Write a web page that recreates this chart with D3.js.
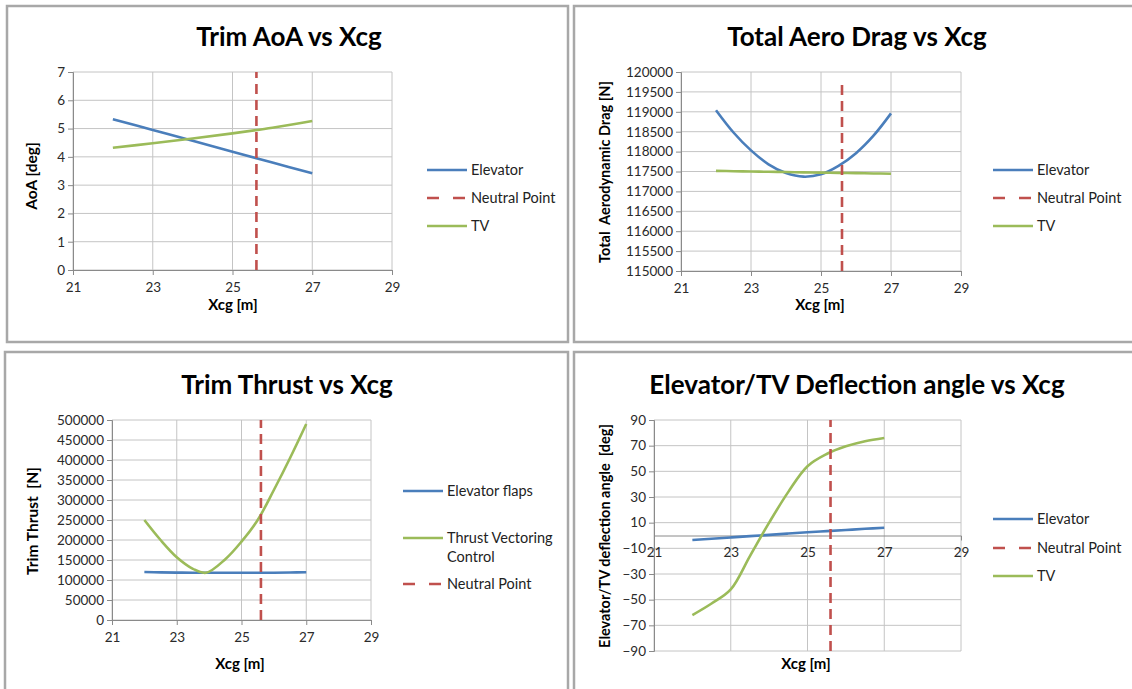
<!DOCTYPE html>
<html>
<head>
<meta charset="utf-8">
<script src="https://cdn.jsdelivr.net/npm/d3@7"></script>
<style>
  body { margin: 0; background: #fff; }
  svg { font-family: Lato, "Open Sans", sans-serif; }
  .tick text { fill: #2a2a2a; }
</style>
</head>
<body>
<svg id="chart" width="1132" height="689"></svg>
<script>
// ---- data ----
var neutralX = 25.6;

// Trim AoA vs Xcg
var aoaX = [22, 23, 24, 25, 26, 27];
var aoaElevator = [5.33, 4.95, 4.57, 4.18, 3.80, 3.42];
var aoaTV = [4.32, 4.48, 4.65, 4.83, 5.03, 5.27];
var aoaTicks = [0, 1, 2, 3, 4, 5, 6, 7];

// Total Aero Drag vs Xcg
var dragX = [22, 22.5, 23, 23.5, 24, 24.5, 25, 25.5, 26, 26.5, 27];
var dragElevator = [119040, 118480, 118030, 117680, 117460, 117370, 117430, 117640, 117960, 118400, 118960];
var dragTV = [117515, 117508, 117500, 117493, 117486, 117479, 117472, 117465, 117458, 117451, 117445];
var dragTicks = [115000, 115500, 116000, 116500, 117000, 117500, 118000, 118500, 119000, 119500, 120000];

// Trim Thrust vs Xcg
var thrustX = [22, 22.5, 23, 23.5, 23.9, 24.5, 25, 25.5, 26, 26.5, 27];
var thrustElevator = [120000, 119000, 118500, 118200, 118000, 118000, 118000, 118000, 118300, 118800, 119500];
var thrustTVC = [250000, 200000, 157000, 128000, 118000, 152000, 196000, 250000, 325000, 405000, 490000];
var thrustTicks = [0, 50000, 100000, 150000, 200000, 250000, 300000, 350000, 400000, 450000, 500000];

// Elevator/TV Deflection angle vs Xcg
var deflX = [22, 22.5, 23, 23.5, 24, 24.5, 25, 25.5, 26, 26.5, 27];
var deflElevator = [-3.5, -2.5, -1.5, -0.5, 0.5, 1.5, 2.5, 3.4, 4.3, 5.2, 6.0];
var deflTV = [-62, -53, -42, -16, 10, 34, 54, 63.5, 69.5, 73.5, 76];
var deflTicks = [-90, -70, -50, -30, -10, 10, 30, 50, 70, 90];

var xTicks = [21, 23, 25, 27, 29];

var blue = "#4a7ebb", red = "#c0504d", green = "#9bbb59";

var svg = d3.select("#chart");

// panel frames
[[7, 6, 561, 336], [574, 6, 570, 336], [5, 352, 563, 350], [574, 352, 570, 350]].forEach(function (r) {
    svg.append("rect")
        .attr("x", r[0]).attr("y", r[1])
        .attr("width", r[2]).attr("height", r[3])
        .attr("fill", "none")
        .attr("stroke", "#a8a8a8")
        .attr("stroke-width", 2.5);
});

function zip(xs, ys) {
    return xs.map(function (x, i) { return [x, ys[i]]; });
}

function drawPanel(p) {
    var g = svg.append("g");
    var x = d3.scaleLinear().domain([21, 29]).range([p.x0, p.x1]);
    var y = d3.scaleLinear().domain(p.yDomain).range([p.y1, p.y0]);

    // grid
    g.selectAll(".hg").data(p.yTicks).enter().append("line")
        .attr("x1", p.x0).attr("x2", p.x1)
        .attr("y1", function (d) { return y(d); })
        .attr("y2", function (d) { return y(d); })
        .attr("stroke", "#c4c4c4");
    g.selectAll(".vg").data(xTicks).enter().append("line")
        .attr("y1", p.y0).attr("y2", p.y1)
        .attr("x1", function (d) { return x(d); })
        .attr("x2", function (d) { return x(d); })
        .attr("stroke", "#c4c4c4");

    // axes
    var axisY = p.axisAt === undefined ? p.y1 : y(p.axisAt);
    var xa = g.append("g")
        .attr("transform", "translate(0," + axisY + ")")
        .call(d3.axisBottom(x).tickValues(xTicks).tickSize(5).tickPadding(7));
    var ya = g.append("g")
        .attr("transform", "translate(" + p.x0 + ",0)")
        .call(d3.axisLeft(y).tickValues(p.yTicks).tickSize(5).tickPadding(3).tickFormat(d3.format("d")));
    [xa, ya].forEach(function (a) {
        a.attr("font-size", 13.5).attr("font-family", null);
        a.select(".domain").attr("stroke", "#8a8a8a");
        a.selectAll(".tick line").attr("stroke", "#8a8a8a");
    });
    if (p.axisAt !== undefined) xa.selectAll(".tick line").attr("y2", 0);

    // series
    var line = d3.line()
        .x(function (d) { return x(d[0]); })
        .y(function (d) { return y(d[1]); })
        .curve(d3.curveCatmullRom.alpha(0.5));
    p.series.forEach(function (s) {
        g.append("path")
            .datum(zip(s.x, s.y))
            .attr("d", line)
            .attr("fill", "none")
            .attr("stroke", s.color)
            .attr("stroke-width", 2.6);
    });

    // neutral point
    g.append("line")
        .attr("x1", x(neutralX)).attr("x2", x(neutralX))
        .attr("y1", y(p.npRange[0])).attr("y2", y(p.npRange[1]))
        .attr("stroke", red)
        .attr("stroke-width", 2.6)
        .attr("stroke-dasharray", "10,6");

    // titles
    g.append("text")
        .attr("x", p.title[1]).attr("y", p.title[2])
        .attr("text-anchor", "middle")
        .attr("font-size", 26).attr("font-weight", "bold")
        .text(p.title[0]);
    g.append("text")
        .attr("x", p.xTitle[0]).attr("y", p.xTitle[1])
        .attr("text-anchor", "middle")
        .attr("font-size", 15).attr("font-weight", "bold")
        .text("Xcg [m]");
    g.append("text")
        .attr("transform", "translate(" + p.yTitle[1] + "," + p.yTitle[2] + ") rotate(-90)")
        .attr("text-anchor", "middle")
        .attr("font-size", p.yTitle[3]).attr("font-weight", "bold")
        .attr("xml:space", "preserve")
        .style("white-space", "pre")
        .text(p.yTitle[0]);

    // legend
    p.legend.forEach(function (l) {
        g.append("line")
            .attr("x1", p.legendX).attr("x2", p.legendX + 40)
            .attr("y1", l.y).attr("y2", l.y)
            .attr("stroke", l.color)
            .attr("stroke-width", 2.6)
            .attr("stroke-dasharray", l.dash ? "12,14" : null);
        l.text.forEach(function (t, i) {
            g.append("text")
                .attr("x", p.legendX + 44).attr("y", l.y + 5 + i * 19)
                .attr("font-size", 14.5).attr("fill", "#222")
                .text(t);
        });
    });
}

drawPanel({
    x0: 73, x1: 392, y0: 72, y1: 270,
    yDomain: [0, 7], yTicks: aoaTicks,
    series: [{ x: aoaX, y: aoaElevator, color: blue }, { x: aoaX, y: aoaTV, color: green }],
    npRange: [0, 7],
    title: ["Trim AoA vs Xcg", 289, 46],
    xTitle: [233, 310], yTitle: ["AoA [deg]", 37, 176, 15.5],
    legendX: 427,
    legend: [{ y: 170, color: blue, text: ["Elevator"] },
             { y: 198, color: red, dash: true, text: ["Neutral Point"] },
             { y: 226, color: green, text: ["TV"] }]
});

drawPanel({
    x0: 681, x1: 961, y0: 72, y1: 271,
    yDomain: [115000, 120000], yTicks: dragTicks,
    series: [{ x: dragX, y: dragElevator, color: blue }, { x: dragX, y: dragTV, color: green }],
    npRange: [115000, 119780],
    title: ["Total Aero Drag vs Xcg", 857, 46],
    xTitle: [820, 310], yTitle: ["Total  Aerodynamic Drag [N]", 610, 172, 14.5],
    legendX: 993,
    legend: [{ y: 170, color: blue, text: ["Elevator"] },
             { y: 198, color: red, dash: true, text: ["Neutral Point"] },
             { y: 226, color: green, text: ["TV"] }]
});

drawPanel({
    x0: 112, x1: 371, y0: 420, y1: 620,
    yDomain: [0, 500000], yTicks: thrustTicks,
    series: [{ x: thrustX, y: thrustElevator, color: blue }, { x: thrustX, y: thrustTVC, color: green }],
    npRange: [0, 500000],
    title: ["Trim Thrust vs Xcg", 287, 394],
    xTitle: [240, 669], yTitle: ["Trim Thrust  [N]", 38, 521, 15.5],
    legendX: 403,
    legend: [{ y: 491, color: blue, text: ["Elevator flaps"] },
             { y: 538, color: green, text: ["Thrust Vectoring", "Control"] },
             { y: 584, color: red, dash: true, text: ["Neutral Point"] }]
});

drawPanel({
    x0: 654, x1: 961, y0: 420, y1: 651,
    yDomain: [-90, 90], yTicks: deflTicks, axisAt: 0,
    series: [{ x: deflX, y: deflElevator, color: blue }, { x: deflX, y: deflTV, color: green }],
    npRange: [-90, 90],
    title: ["Elevator/TV Deflection angle vs Xcg", 857, 394],
    xTitle: [806, 669], yTitle: ["Elevator/TV deflection angle  [deg]", 610, 536, 14.5],
    legendX: 993,
    legend: [{ y: 519, color: blue, text: ["Elevator"] },
             { y: 548, color: red, dash: true, text: ["Neutral Point"] },
             { y: 576, color: green, text: ["TV"] }]
});
</script>
</body>
</html>
